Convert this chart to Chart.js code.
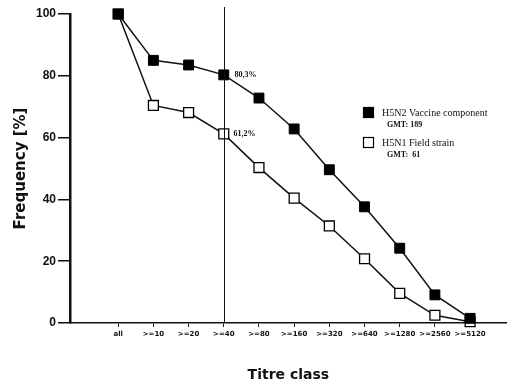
<!DOCTYPE html>
<html>
<head>
<meta charset="utf-8">
<script src="https://cdn.jsdelivr.net/npm/chart.js"></script>
<style>
  html, body { margin: 0; padding: 0; background: #fff; }
  #wrap { width: 515px; height: 384px; }
</style>
</head>
<body>
<div id="wrap"><canvas id="c" width="515" height="384"></canvas></div>
<script>
const titreClasses = ["all", ">=10", ">=20", ">=40", ">=80", ">=160", ">=320", ">=640", ">=1280", ">=2560", ">=5120"];
const h5n2Vaccine = [100, 85, 83.5, 80.3, 72.8, 62.8, 49.6, 37.6, 24.2, 9.1, 1.5];
const h5n1Field = [100, 70.4, 68.1, 61.2, 50.3, 40.4, 31.4, 20.8, 9.6, 2.5, 0.4];
const yTicks = [0, 20, 40, 60, 80, 100];
const markedClass = 3; // >=40
const seriesNames = ["H5N2 Vaccine component", "H5N1 Field strain"];
const gmtLabels = ["GMT: 189", "GMT:  61"];

const serif = "'Liberation Serif', 'DejaVu Serif', serif";
const sans = "'Liberation Sans', Arial, sans-serif";
const wide = "'DejaVu Sans', Verdana, sans-serif";

// vertical marker at >=40, the two percentages beside it, and the legend block
const extras = {
  id: "extras",
  afterDatasetsDraw(chart) {
    const { ctx, scales: { x, y } } = chart;
    const px = Math.round(x.getPixelForValue(markedClass)) + 0.5;
    ctx.save();
    ctx.strokeStyle = "#111";
    ctx.lineWidth = 1;
    ctx.beginPath();
    ctx.moveTo(px, 7);
    ctx.lineTo(px, y.bottom);
    ctx.stroke();

    ctx.fillStyle = "#111";
    ctx.font = "bold 8px " + serif;
    ctx.textBaseline = "middle";
    ctx.fillText(String(h5n2Vaccine[markedClass]).replace(".", ",") + "%", px + 10, y.getPixelForValue(h5n2Vaccine[markedClass]));
    ctx.fillText(String(h5n1Field[markedClass]).replace(".", ",") + "%", px + 9, y.getPixelForValue(h5n1Field[markedClass]));

    const rows = [113, 143];
    rows.forEach((ry, i) => {
      ctx.lineWidth = 1.2;
      ctx.strokeStyle = "#000";
      ctx.fillStyle = i === 0 ? "#000" : "#fff";
      ctx.fillRect(363.5, ry - 5.5, 10, 10);
      ctx.strokeRect(363.5, ry - 5.5, 10, 10);
      ctx.fillStyle = "#111";
      ctx.font = "10px " + serif;
      ctx.fillText(seriesNames[i], 382, ry);
      ctx.font = "bold 8px " + serif;
      ctx.fillText(gmtLabels[i], 387, ry + 12);
    });
    ctx.restore();
  }
};

new Chart(document.getElementById("c"), {
  type: "line",
  data: {
    datasets: [
      {
        label: seriesNames[0],
        data: h5n2Vaccine.map((v, i) => ({ x: i, y: v })),
        borderColor: "#111",
        borderWidth: 1.5,
        pointStyle: "rect",
        pointRadius: 7,
        pointBackgroundColor: "#000",
        pointBorderColor: "#000",
        pointBorderWidth: 1
      },
      {
        label: seriesNames[1],
        data: h5n1Field.map((v, i) => ({ x: i, y: v })),
        borderColor: "#111",
        borderWidth: 1.5,
        pointStyle: "rect",
        pointRadius: 7,
        pointBackgroundColor: "#fff",
        pointBorderColor: "#000",
        pointBorderWidth: 1.3
      }
    ]
  },
  options: {
    responsive: false,
    animation: false,
    clip: false,
    layout: { padding: { top: 14, right: 2, left: 12, bottom: 0 } },
    plugins: { legend: { display: false }, tooltip: { enabled: false } },
    scales: {
      x: {
        type: "linear",
        min: -1.37,
        max: 11.04,
        afterBuildTicks(scale) { scale.ticks = titreClasses.map((_, i) => ({ value: i })); },
        afterFit(scale) { scale.height = 61; },
        grid: { drawOnChartArea: false, tickLength: 4, color: "#222", lineWidth: 1 },
        border: { color: "#111", width: 1.5 },
        ticks: {
          autoSkip: false,
          maxRotation: 0,
          padding: 3,
          color: "#111",
          font: { family: wide, size: 7, weight: "bold" },
          callback: v => titreClasses[v] ?? ""
        },
        title: {
          display: true,
          text: "Titre class",
          color: "#111",
          font: { family: wide, size: 14, weight: "bold" },
          padding: { top: 24, bottom: 0 }
        }
      },
      y: {
        min: 0,
        max: 100,
        afterBuildTicks(scale) { scale.ticks = yTicks.map(v => ({ value: v })); },
        afterFit(scale) { scale.width = 58; },
        grid: { drawOnChartArea: false, tickLength: 12, color: "#111", lineWidth: 1.5 },
        border: { color: "#111", width: 2.5 },
        ticks: {
          padding: 2,
          color: "#111",
          font: { family: sans, size: 12, weight: "bold" }
        },
        title: {
          display: true,
          text: "Frequency [%]",
          color: "#111",
          font: { family: wide, size: 15, weight: "bold" },
          padding: { top: 0, bottom: 6 }
        }
      }
    }
  },
  plugins: [extras]
});
</script>
</body>
</html>
